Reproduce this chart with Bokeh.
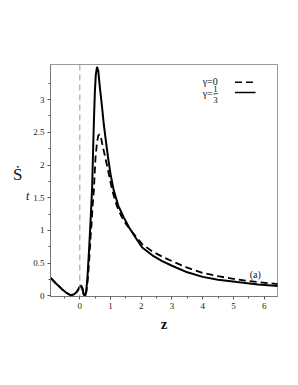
from bokeh.plotting import figure
from bokeh.models import Span, Label, Range1d, FixedTicker, LinearAxis
from bokeh.embed import file_html
from bokeh.resources import INLINE

# gamma = 1/3 (solid)
z_solid = [-0.95, -0.8, -0.6, -0.45, -0.3, -0.2, -0.1, 0.0, 0.04, 0.08, 0.12, 0.15, 0.18,
           0.21, 0.25, 0.3, 0.35, 0.40, 0.43, 0.46, 0.49, 0.52, 0.56, 0.60, 0.65, 0.72,
           0.78, 0.85, 0.92, 1.0, 1.1, 1.25, 1.43, 1.6, 1.8, 2.03, 2.36, 2.68, 3.0, 3.5,
           4.0, 4.5, 5.12, 5.8, 6.45]
s_solid = [0.275, 0.20, 0.11, 0.05, 0.01, 0.02, 0.06, 0.14, 0.16, 0.12, 0.03, 0.0, 0.01,
           0.08, 0.3, 0.7, 1.15, 1.65, 2.2, 2.7, 3.13, 3.38, 3.5, 3.44, 3.2, 2.9,
           2.62, 2.36, 2.11, 1.86, 1.62, 1.38, 1.2, 1.05, 0.9, 0.74, 0.62, 0.53, 0.46, 0.36,
           0.29, 0.245, 0.21, 0.175, 0.15]

# gamma = 0 (dashed)
z_dash = [-0.95, -0.8, -0.6, -0.45, -0.3, -0.2, -0.1, 0.0, 0.04, 0.08, 0.12, 0.15, 0.18,
          0.21, 0.25, 0.3, 0.35, 0.38, 0.42, 0.455, 0.51, 0.56, 0.60, 0.64, 0.68, 0.74,
          0.83, 0.95, 1.05, 1.2, 1.35, 1.5, 1.7, 2.03, 2.36, 2.68, 3.0, 3.5, 4.0, 4.5,
          5.12, 5.8, 6.45]
s_dash = [0.275, 0.20, 0.11, 0.05, 0.01, 0.02, 0.06, 0.14, 0.16, 0.12, 0.03, 0.0, 0.01,
          0.06, 0.2, 0.5, 0.9, 1.09, 1.4, 1.6, 2.11, 2.35, 2.45, 2.47, 2.44, 2.3,
          2.11, 1.85, 1.62, 1.38, 1.22, 1.1, 0.98, 0.79, 0.68, 0.6, 0.53, 0.43, 0.35, 0.3,
          0.25, 0.21, 0.18]

x_ticks = [0, 1, 2, 3, 4, 5, 6]
x_tick_labels = ["0", "1", "2", "3", "4", "5", "6"]
y_ticks = [0, 0.5, 1, 1.5, 2, 2.5, 3]
y_tick_labels = ["0", "0.5", "1", "1.5", "2", "2.5", "3"]

SERIF = "Liberation Serif"

p = figure(frame_width=227, frame_height=232,
           min_border_left=50, min_border_top=64, min_border_right=10, min_border_bottom=40,
           x_range=Range1d(-0.955, 6.435), y_range=Range1d(-0.01, 3.537),
           output_backend="svg", toolbar_location=None)

p.background_fill_color = "white"
p.border_fill_color = "white"
p.outline_line_color = "#999999"
p.outline_line_width = 1
p.xgrid.visible = False
p.ygrid.visible = False

p.xaxis.ticker = FixedTicker(ticks=x_ticks, minor_ticks=[t + 0.5 for t in [-1] + x_ticks])
p.yaxis.ticker = FixedTicker(ticks=y_ticks,
                             minor_ticks=[t + 0.25 for t in y_ticks])
p.xaxis.major_label_overrides = {t: l for t, l in zip(x_ticks, x_tick_labels)}
p.yaxis.major_label_overrides = {t: l for t, l in zip(y_ticks, y_tick_labels)}

for ax in (p.xaxis[0], p.yaxis[0]):
    ax.axis_line_color = "#777777"
    ax.major_tick_line_color = "#555555"
    ax.minor_tick_line_color = "#555555"
    ax.major_tick_in = 0
    ax.major_tick_out = 3
    ax.minor_tick_in = 0
    ax.minor_tick_out = 2
    ax.major_label_text_font = SERIF
    ax.major_label_text_font_size = "9px"
    ax.major_label_text_color = "#222222"
    ax.major_label_standoff = 3

p.xaxis.axis_label = "z"
p.xaxis.axis_label_text_font = SERIF
p.xaxis.axis_label_text_font_style = "bold"
p.xaxis.axis_label_text_font_size = "15px"
p.xaxis.axis_label_standoff = 4
p.xaxis.axis_label_text_color = "#111111"

# y label: subscript "t" on the inner axis, "Ṡ" on an outer label-only axis
yax = p.yaxis[0]
yax.axis_label = "\nt"
yax.axis_label_orientation = "horizontal"
yax.axis_label_text_font = SERIF
yax.axis_label_text_font_style = "italic"
yax.axis_label_text_font_size = "12px"
yax.axis_label_text_line_height = 2.2
yax.axis_label_standoff = 1
yax.axis_label_text_color = "#111111"

outer = LinearAxis(ticker=FixedTicker(ticks=[]), axis_label="Ṡ\n",
                   axis_label_orientation="horizontal", axis_line_color=None,
                   major_tick_line_color=None, minor_tick_line_color=None,
                   major_label_text_font_size="0px", axis_label_text_font=SERIF,
                   axis_label_text_font_size="17px", axis_label_text_font_style="normal",
                   axis_label_text_line_height=0.6,
                   axis_label_text_color="#111111", axis_label_standoff=0)
p.add_layout(outer, "left")

p.add_layout(Span(location=0, dimension="height", line_color="#999999",
                  line_width=1, line_dash="6 4"))

p.line(z_dash, s_dash, line_color="black", line_width=1.8, line_dash="7 4")
p.line(z_solid, s_solid, line_color="black", line_width=2)

# legend
p.add_layout(Label(x=4.0, y=3.28, text="γ=0", text_font=SERIF, text_font_size="10px",
                   text_align="left", text_baseline="middle", text_color="#111111"))
p.add_layout(Label(x=4.0, y=3.09, text="γ=", text_font=SERIF, text_font_size="10px",
                   text_align="left", text_baseline="middle", text_color="#111111"))
p.add_layout(Label(x=4.42, y=3.17, text="1", text_font=SERIF, text_font_size="9px",
                   text_align="center", text_baseline="middle", text_color="#111111"))
p.add_layout(Label(x=4.42, y=3.0, text="3", text_font=SERIF, text_font_size="9px",
                   text_align="center", text_baseline="middle", text_color="#111111"))
p.segment(x0=[4.35], y0=[3.09], x1=[4.49], y1=[3.09], line_color="#111111", line_width=0.8)
p.segment(x0=[5.05], y0=[3.265], x1=[5.70], y1=[3.265], line_color="black",
          line_width=1.5, line_dash="7 4")
p.segment(x0=[5.05], y0=[3.11], x1=[5.72], y1=[3.11], line_color="black", line_width=1.5)

p.add_layout(Label(x=5.71, y=0.32, text="(a)", text_font=SERIF, text_font_size="10px",
                   text_align="center", text_baseline="middle", text_color="#111111"))

open("out.html", "w").write(file_html(p, INLINE))
